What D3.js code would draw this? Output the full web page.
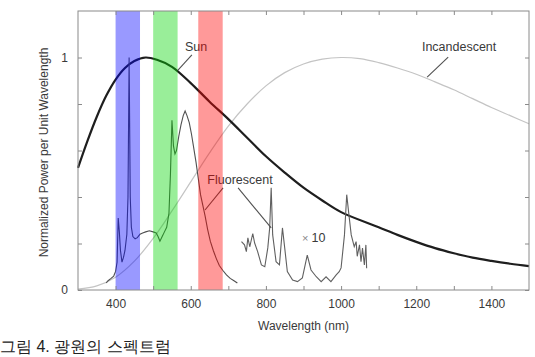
<!DOCTYPE html>
<html><head><meta charset="utf-8">
<script src="https://cdn.jsdelivr.net/npm/d3@7"></script>
<style>
html,body{margin:0;padding:0;background:#fff;}
svg{display:block;}
text{font-family:"Liberation Sans",Arial,sans-serif;}
</style></head>
<body><svg id="chart" width="535" height="357"></svg>
<script>
// ---------- data ----------
const xTicks = [400,500,600,700,800,900,1000,1100,1200,1300,1400];
const xTickLabels = [400,600,800,1000,1200,1400];
const yTicks = [0,0.2,0.4,0.6,0.8,1.0];
const yTickLabels = [0,1];

const sunWave = [300,325,350,375,400,425,450,480,510,550,600,650,700,750,800,850,900,950,1000,1100,1150,1200,1250,1300,1350,1400,1450,1500];
const sunValue = [0.525,0.64,0.745,0.835,0.905,0.955,0.985,1.0,0.99,0.96,0.89,0.81,0.735,0.655,0.575,0.505,0.44,0.385,0.335,0.27,0.237,0.207,0.18,0.158,0.139,0.125,0.113,0.103];

const incWave = [300,350,400,450,500,550,600,650,700,750,800,850,900,950,1000,1050,1100,1150,1200,1250,1300,1350,1400,1450,1500];
const incValue = [0.004,0.018,0.055,0.124,0.222,0.34,0.465,0.59,0.705,0.80,0.878,0.935,0.972,0.993,1.0,0.995,0.978,0.955,0.928,0.895,0.861,0.823,0.785,0.75,0.715];

const fluWave = [375,380,388,395,400,404,407,410,413,417,421,425,430,433,436,439,442,446,452,458,465,472,480,490,500,508,513,518,524,530,536,542,546,550,554,558,562,568,574,580,585,590,596,602,608,614,620,626,632,638,645,652,660,668,676,685,695,705,715,724];
const fluValue = [0.03,0.04,0.05,0.06,0.08,0.12,0.31,0.25,0.17,0.12,0.14,0.17,0.24,0.40,1.0,0.40,0.27,0.23,0.22,0.225,0.24,0.245,0.25,0.255,0.25,0.245,0.23,0.21,0.23,0.25,0.27,0.33,0.50,0.73,0.62,0.585,0.60,0.66,0.71,0.75,0.77,0.75,0.72,0.67,0.61,0.55,0.48,0.41,0.365,0.32,0.26,0.21,0.17,0.135,0.105,0.085,0.065,0.05,0.04,0.03];

const fluIrWave = [735,743,748,752,757,765,770,778,788,797,805,810,814,818,827,836,844,850,857,871,884,897,910,920,934,947,960,973,987,995,1000,1009,1015,1020,1027,1035,1040,1043,1049,1053,1057,1062,1066,1068];
const fluIrValue = [0.208,0.194,0.165,0.224,0.186,0.243,0.202,0.165,0.108,0.10,0.181,0.267,0.44,0.237,0.122,0.108,0.267,0.181,0.079,0.043,0.036,0.052,0.15,0.086,0.057,0.036,0.057,0.036,0.065,0.079,0.095,0.237,0.41,0.336,0.237,0.186,0.208,0.145,0.194,0.122,0.18,0.108,0.194,0.094];

const bandStart = [400,500,620];
const bandEnd = [465,565,685];
const bandColor = ["#0000ff","#00d400","#ff0000"];

const labelText = ["Sun","Incandescent","Fluorescent"];
const labelWave = [614,1314,731];
const labelValue = [1.028,1.028,0.456];
const leaderFrom = [[603,1.011],[1285,1.002],[686,0.439],[726,0.439]];
const leaderTo = [[566,0.946],[1229,0.916],[638,0.344],[814,0.267]];
const timesWave = 896, timesValue = 0.206;
const caption = "그림 4. 광원의 스펙트럼";

// ---------- chart ----------
const svg = d3.select("#chart");
const x = d3.scaleLinear().domain([300,1500]).range([78,529]);
const y = d3.scaleLinear().domain([0,1.2]).range([290,11]);
const frameCol = "#8a8a8a", textCol = "#3a3a3a";

const zip = (a,b) => a.map((d,i)=>[d,b[i]]);
const smooth = d3.line().x(d=>x(d[0])).y(d=>y(d[1])).curve(d3.curveCatmullRom.alpha(0.5));
const lin = d3.line().x(d=>x(d[0])).y(d=>y(d[1]));

// incandescent
svg.append("path").datum(zip(incWave,incValue))
  .attr("d", smooth).attr("fill","none")
  .attr("stroke","#c4c4c4").attr("stroke-width",1.2);
// sun
svg.append("path").datum(zip(sunWave,sunValue))
  .attr("d", smooth).attr("fill","none")
  .attr("stroke","#1e1e1e").attr("stroke-width",2.2);
// fluorescent
svg.append("path").datum(zip(fluWave,fluValue))
  .attr("d", lin).attr("fill","none").attr("stroke","#505050").attr("stroke-width",1.1);
svg.append("path").datum(zip(fluIrWave,fluIrValue))
  .attr("d", lin).attr("fill","none").attr("stroke","#606060").attr("stroke-width",1.1);

// leaders
svg.selectAll("line.leader").data(leaderFrom).join("line").attr("class","leader")
  .attr("x1",d=>x(d[0])).attr("y1",d=>y(d[1]))
  .attr("x2",(d,i)=>x(leaderTo[i][0])).attr("y2",(d,i)=>y(leaderTo[i][1]))
  .attr("stroke","#505050").attr("stroke-width",1.1);

// labels
svg.selectAll("text.lbl").data(labelText).join("text").attr("class","lbl")
  .attr("x",(d,i)=>x(labelWave[i])).attr("y",(d,i)=>y(labelValue[i]))
  .attr("text-anchor","middle").attr("font-size",12.5).attr("fill",textCol).text(d=>d);
const tt = svg.append("text").attr("x",x(timesWave)).attr("y",y(timesValue))
  .attr("font-size",12.5).attr("fill",textCol);
tt.append("tspan").attr("fill","#888").attr("font-size",11).text("× ");
tt.append("tspan").text("10");

// colour bands (on top, translucent)
svg.selectAll("rect.band").data(bandStart).join("rect").attr("class","band")
  .attr("x",d=>x(d)).attr("width",(d,i)=>x(bandEnd[i])-x(d))
  .attr("y",y(1.2)).attr("height",y(0)-y(1.2))
  .attr("fill",(d,i)=>bandColor[i]).attr("fill-opacity",0.4);

// axes
function style(g){
  g.select(".domain").remove();
  g.selectAll(".tick line").attr("stroke",frameCol);
  g.selectAll(".tick text").attr("fill",textCol).attr("font-size",12)
    .attr("font-family","'Liberation Sans',Arial,sans-serif");
}
svg.append("g").attr("transform",`translate(0,${y(0)})`)
  .call(d3.axisBottom(x).tickValues(xTicks).tickSize(-4).tickPadding(9)
    .tickFormat(d=>xTickLabels.includes(d)?d:"")).call(style);
svg.append("g").attr("transform",`translate(0,${y(1.2)})`)
  .call(d3.axisTop(x).tickValues(xTicks).tickSize(-4).tickFormat("")).call(style);
svg.append("g").attr("transform",`translate(${x(300)},0)`)
  .call(d3.axisLeft(y).tickValues(yTicks).tickSize(-4).tickPadding(10)
    .tickFormat(d=>yTickLabels.includes(d)?d:"")).call(style);
svg.append("g").attr("transform",`translate(${x(1500)},0)`)
  .call(d3.axisRight(y).tickValues(yTicks).tickSize(-4).tickFormat("")).call(style);

// frame
svg.append("rect").attr("x",x(300)).attr("y",y(1.2))
  .attr("width",x(1500)-x(300)).attr("height",y(0)-y(1.2))
  .attr("fill","none").attr("stroke",frameCol).attr("stroke-width",1);

// axis titles
svg.append("text").attr("x",(x(300)+x(1500))/2).attr("y",330)
  .attr("text-anchor","middle").attr("font-size",12).attr("fill",textCol)
  .text("Wavelength (nm)");
svg.append("text").attr("transform",`translate(48,${(y(0)+y(1.2))/2+2}) rotate(-90)`)
  .attr("text-anchor","middle").attr("font-size",12).attr("fill",textCol)
  .text("Normalized Power per Unit Wavelength");

// caption at the bottom edge
svg.append("text").attr("x",0).attr("y",352)
  .attr("font-family","'Noto Sans CJK KR',sans-serif").attr("font-size",16)
  .attr("fill","#222").text(caption);
</script></body></html>
